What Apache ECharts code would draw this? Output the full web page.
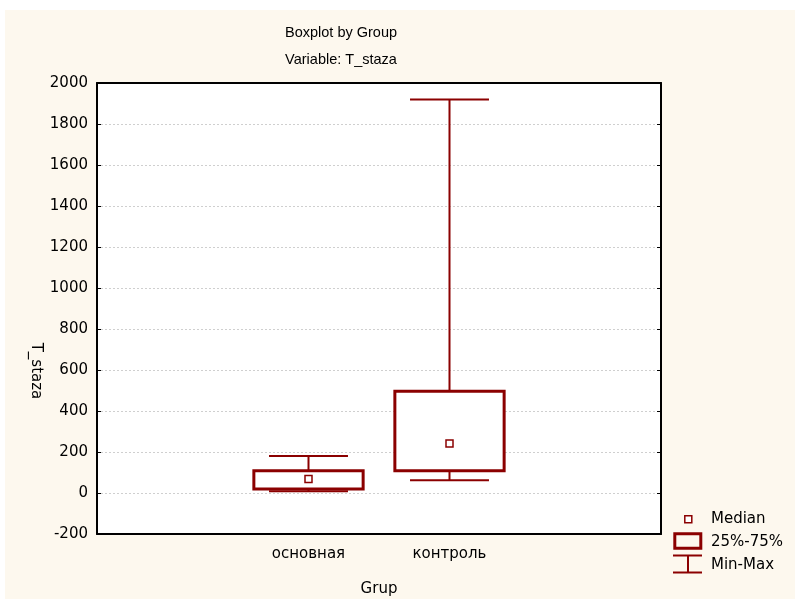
<!DOCTYPE html>
<html>
<head>
<meta charset="utf-8">
<script src="https://cdn.jsdelivr.net/npm/echarts@6/dist/echarts.min.js"></script>
<style>
  html, body { margin: 0; padding: 0; background: #fff; }
  #wrap { position: relative; width: 795px; height: 599px; background: #fff; }
  #cream { position: absolute; left: 5px; top: 10px; right: 0; bottom: 0; background: #fdf8ee; }
  #chart { position: absolute; left: 0; top: 0; width: 795px; height: 599px; }
</style>
</head>
<body>
<div id="wrap">
  <div id="cream"></div>
  <div id="chart"></div>
</div>
<script>
// x slots: two empty ones around the groups
const categories = [' ', 'основная', 'контроль', '  ']
const groupSlots = [1, 2]
const mins = [8, 62]
const q1s = [20, 108]
const medians = [68, 242]
const q3s = [108, 496]
const maxs = [181, 1919]

const dark = '#8b0000'
const font = 'DejaVu Sans, Liberation Sans, sans-serif'
const narrow = 'Liberation Sans Narrow, Arial Narrow, Liberation Sans, sans-serif'

let boxData = groupSlots.map((s, i) => [s, mins[i], q1s[i], medians[i], q3s[i], maxs[i]])

function renderBox(params, api) {
  let x = api.value(0)
  let lo = api.coord([x, api.value(1)])
  let q1 = api.coord([x, api.value(2)])
  let md = api.coord([x, api.value(3)])
  let q3 = api.coord([x, api.value(4)])
  let hi = api.coord([x, api.value(5)])
  let band = api.size([1, 0])[0]
  let boxW = band * 0.775
  let capW = band * 0.56
  let cx = lo[0]
  let ln = { stroke: dark, lineWidth: 2 }
  return {
    type: 'group',
    children: [
      { type: 'line', shape: { x1: cx, y1: hi[1], x2: cx, y2: q3[1] }, style: ln },
      { type: 'line', shape: { x1: cx, y1: q1[1], x2: cx, y2: lo[1] }, style: ln },
      { type: 'line', shape: { x1: cx - capW / 2, y1: hi[1], x2: cx + capW / 2, y2: hi[1] }, style: ln },
      { type: 'line', shape: { x1: cx - capW / 2, y1: lo[1], x2: cx + capW / 2, y2: lo[1] }, style: ln },
      {
        type: 'rect',
        shape: { x: cx - boxW / 2, y: q3[1], width: boxW, height: q1[1] - q3[1] },
        style: { fill: '#fff', stroke: dark, lineWidth: 3 }
      },
      {
        type: 'rect',
        shape: { x: md[0] - 3.5, y: md[1] - 3.5, width: 7, height: 7 },
        style: { fill: '#fff', stroke: dark, lineWidth: 1.5 }
      }
    ]
  }
}

let chart = echarts.init(document.getElementById('chart'))
chart.setOption({
  backgroundColor: 'transparent',
  animation: false,
  grid: {
    left: 97, right: 134, top: 83, bottom: 65,
    show: true, backgroundColor: '#fff', borderWidth: 0
  },
  xAxis: [
    {
      type: 'category',
      position: 'bottom',
      data: categories,
      boundaryGap: true,
      axisLine: { onZero: false, lineStyle: { color: '#000', width: 2 } },
      axisTick: { inside: true, alignWithLabel: true, length: 4, lineStyle: { color: '#000' } },
      axisLabel: { color: '#000', fontSize: 15, fontFamily: font, margin: 13 },
      splitLine: { show: false }
    },
    {
      type: 'category',
      position: 'top',
      data: categories,
      boundaryGap: true,
      axisLine: { onZero: false, lineStyle: { color: '#000', width: 2 } },
      axisTick: { inside: true, alignWithLabel: true, length: 4, lineStyle: { color: '#000' } },
      axisLabel: { show: false },
      splitLine: { show: false }
    }
  ],
  yAxis: [
    {
      type: 'value',
      position: 'left',
      min: -200, max: 2000, interval: 200,
      axisLine: { show: true, onZero: false, lineStyle: { color: '#000', width: 2 } },
      axisTick: { show: true, inside: true, length: 4, lineStyle: { color: '#000' } },
      axisLabel: { color: '#000', fontSize: 15, fontFamily: font, margin: 9, formatter: v => String(v) },
      splitLine: { show: true, lineStyle: { color: '#cfcfcf', type: [2, 2], width: 1 } }
    },
    {
      type: 'value',
      position: 'right',
      min: -200, max: 2000, interval: 200,
      axisLine: { show: true, onZero: false, lineStyle: { color: '#000', width: 2 } },
      axisTick: { show: true, inside: true, length: 4, lineStyle: { color: '#000' } },
      axisLabel: { show: false },
      splitLine: { show: false }
    }
  ],
  series: [
    {
      type: 'custom',
      xAxisIndex: 0,
      yAxisIndex: 0,
      renderItem: renderBox,
      encode: { x: 0, y: [1, 2, 3, 4, 5] },
      data: boxData,
      z: 5
    }
  ],
  graphic: [
    {
      type: 'text', x: 341, y: 33,
      style: { text: 'Boxplot by Group', font: '14.5px ' + narrow, fill: '#000', align: 'center', verticalAlign: 'middle' }
    },
    {
      type: 'text', x: 341, y: 60,
      style: { text: 'Variable: T_staza', font: '14.5px ' + narrow, fill: '#000', align: 'center', verticalAlign: 'middle' }
    },
    {
      type: 'text', x: 36, y: 371, rotation: -Math.PI / 2,
      style: { text: 'T_staza', font: '15px ' + font, fill: '#000', align: 'center', verticalAlign: 'middle' }
    },
    {
      type: 'text', x: 379, y: 589,
      style: { text: 'Grup', font: '15px ' + font, fill: '#000', align: 'center', verticalAlign: 'middle' }
    },
    // legend
    {
      type: 'rect', shape: { x: 684.8, y: 515.8, width: 7, height: 7 },
      style: { fill: '#fff', stroke: dark, lineWidth: 1.5 }
    },
    {
      type: 'text', x: 711, y: 519,
      style: { text: 'Median', font: '15px ' + font, fill: '#000', align: 'left', verticalAlign: 'middle' }
    },
    {
      type: 'rect', shape: { x: 674.8, y: 533.8, width: 26, height: 14.5 },
      style: { fill: 'none', stroke: dark, lineWidth: 3 }
    },
    {
      type: 'text', x: 711, y: 542,
      style: { text: '25%-75%', font: '15px ' + font, fill: '#000', align: 'left', verticalAlign: 'middle' }
    },
    { type: 'line', shape: { x1: 673, y1: 555.5, x2: 702, y2: 555.5 }, style: { stroke: dark, lineWidth: 2 } },
    { type: 'line', shape: { x1: 673, y1: 572.5, x2: 702, y2: 572.5 }, style: { stroke: dark, lineWidth: 2 } },
    { type: 'line', shape: { x1: 688, y1: 555.5, x2: 688, y2: 572.5 }, style: { stroke: dark, lineWidth: 2 } },
    {
      type: 'text', x: 711, y: 565,
      style: { text: 'Min-Max', font: '15px ' + font, fill: '#000', align: 'left', verticalAlign: 'middle' }
    }
  ]
})
</script>
</body>
</html>
